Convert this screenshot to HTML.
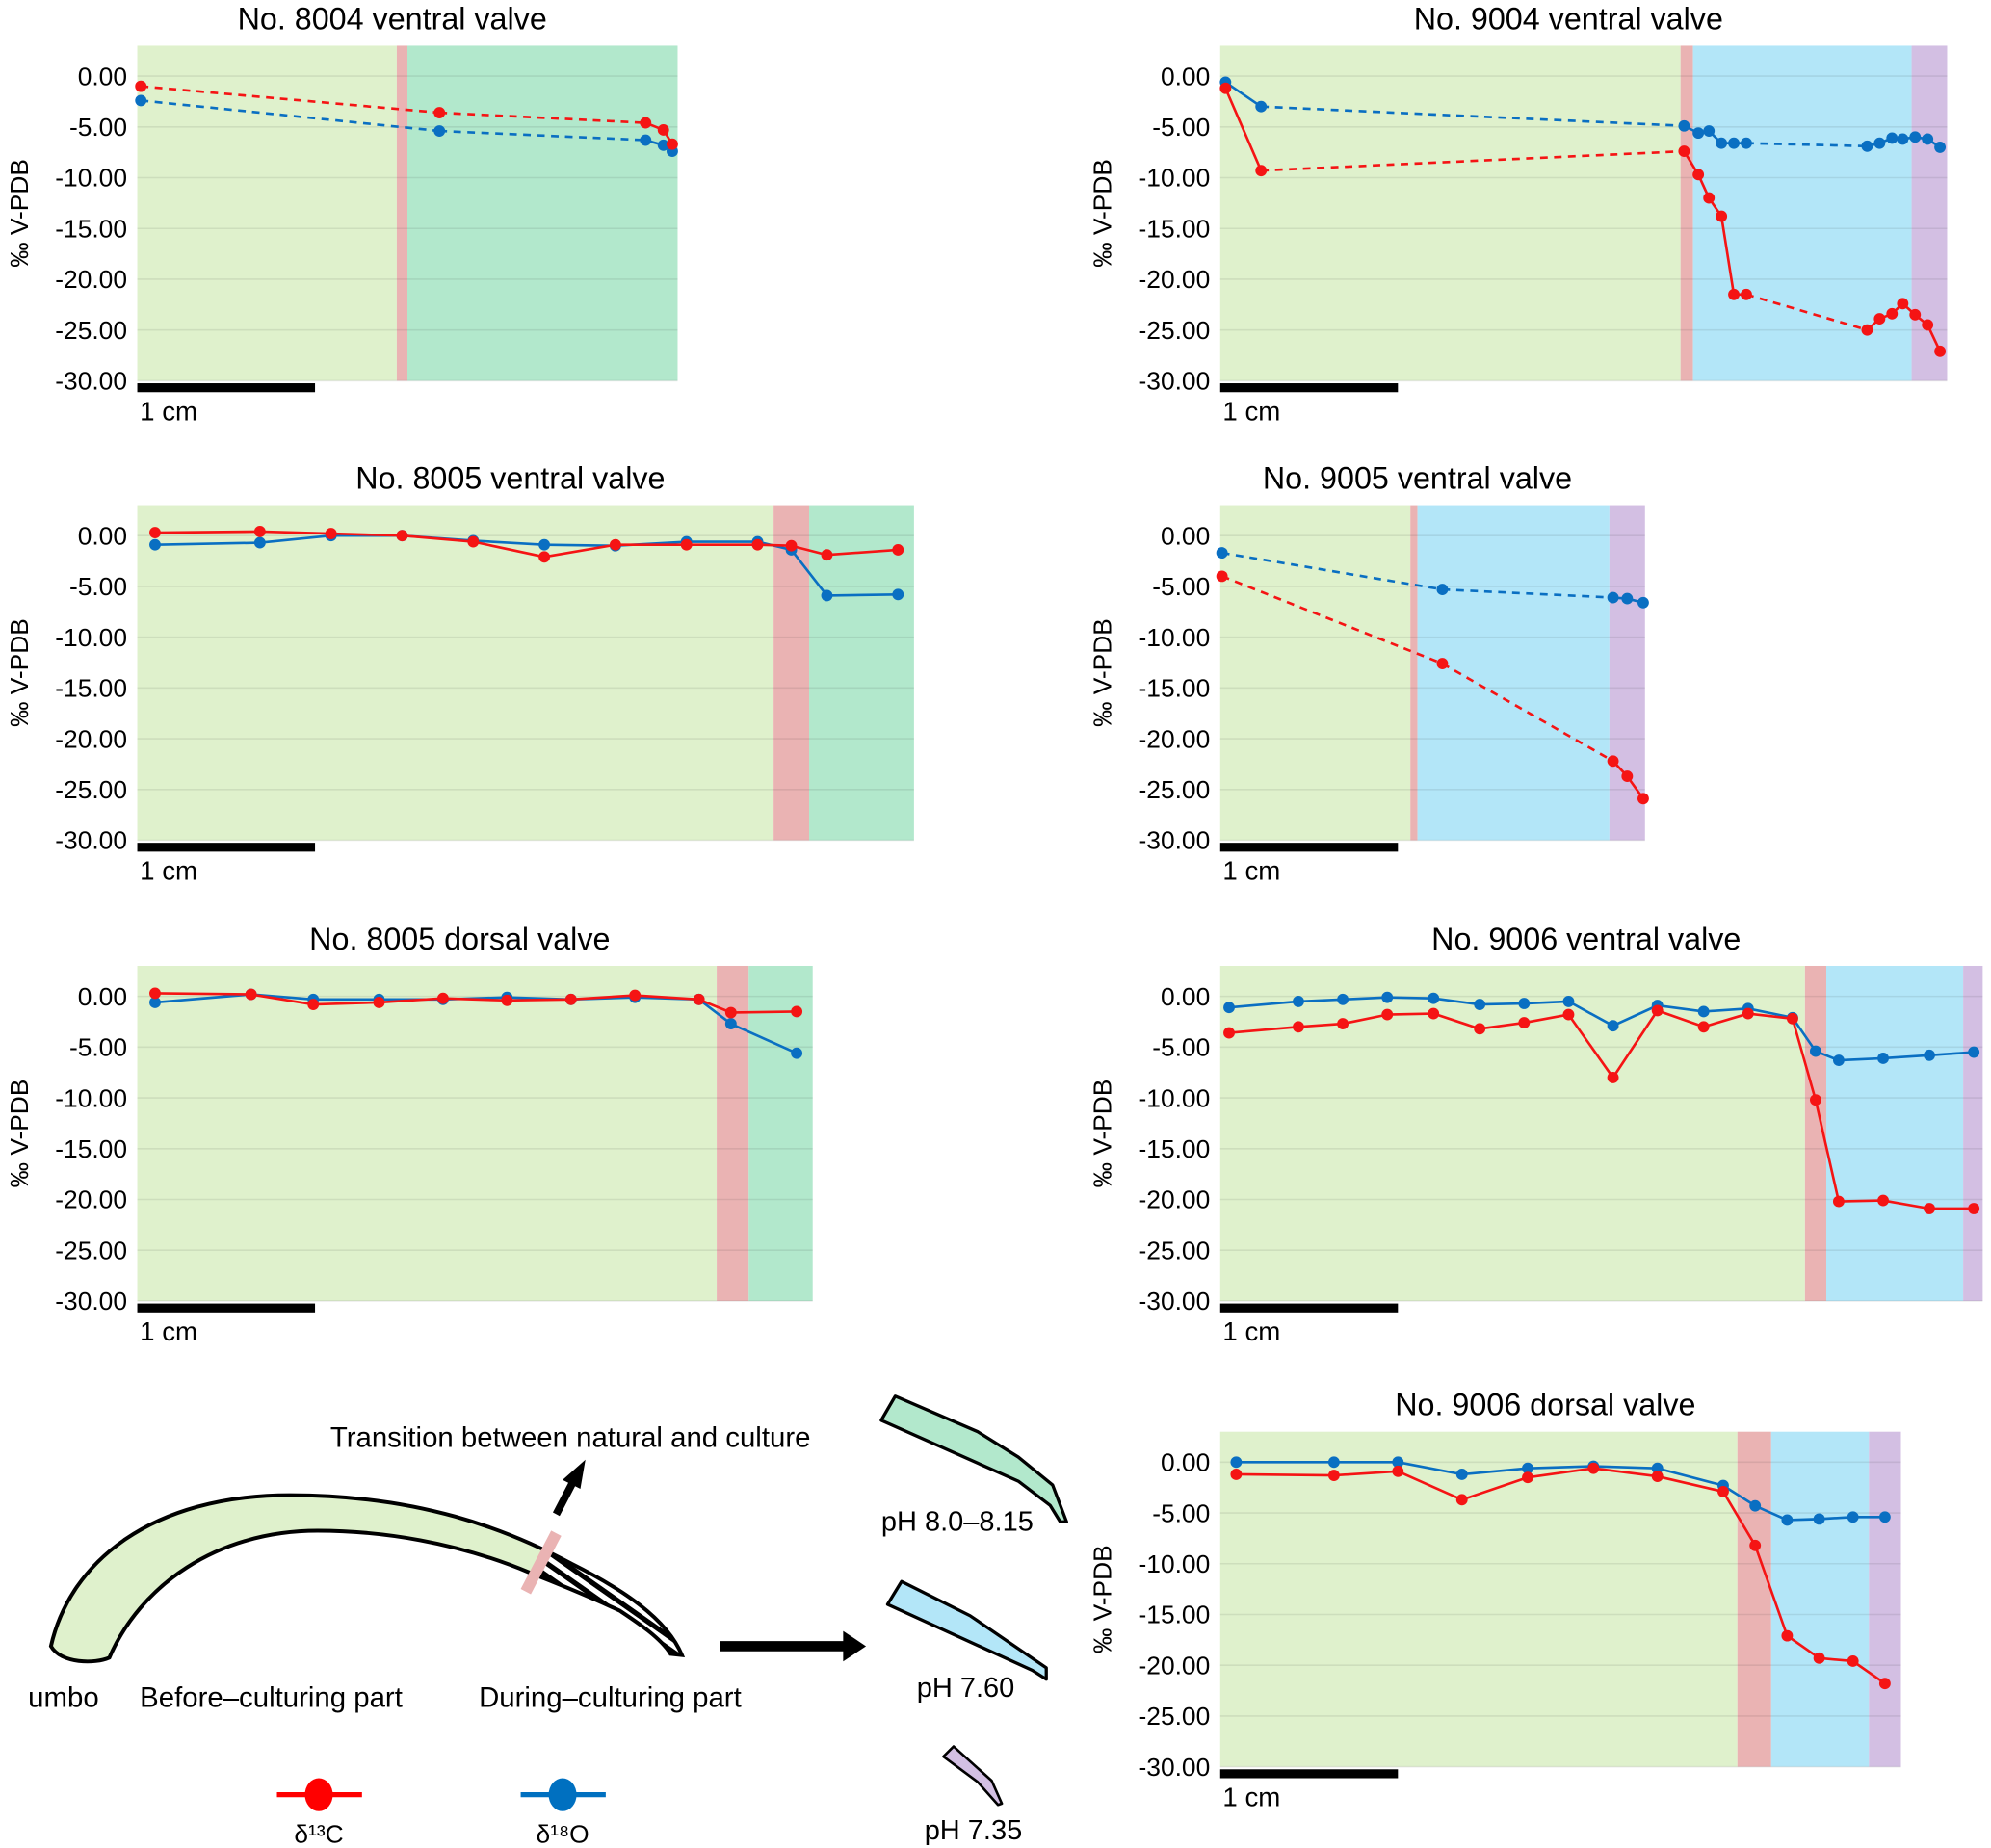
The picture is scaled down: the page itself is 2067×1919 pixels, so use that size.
<!DOCTYPE html>
<html><head><meta charset="utf-8"><style>
html,body{margin:0;padding:0;background:#fff}
svg{display:block}
text{font-family:"Liberation Sans",sans-serif;fill:#000}
</style></head><body>
<svg id="fig" width="2067" height="1919" viewBox="0 0 1568 1456" xmlns="http://www.w3.org/2000/svg">
<defs>
<pattern id="hatch" patternUnits="userSpaceOnUse" width="8" height="8" patternTransform="rotate(35)">
<rect width="8" height="8" fill="#fff"/><rect width="8" height="4" fill="#000"/></pattern>
<clipPath id="shellclip"><path d="M40,1297 C55,1230 120,1178 228,1178 C330,1178 400,1205 450,1232 C490,1252 525,1275 537,1304 L528,1303 C520,1290 500,1277 488,1269 C460,1256 440,1248 417,1239 C360,1215 300,1206 250,1206 C170,1206 110,1250 86,1306 C75,1311 48,1311 40,1297 Z"/></clipPath>
</defs>
<g id="charts"></g>
<g>
<path d="M40,1297 C55,1230 120,1178 228,1178 C330,1178 400,1205 450,1232 C490,1252 525,1275 537,1304 L528,1303 C520,1290 500,1277 488,1269 C460,1256 440,1248 417,1239 C360,1215 300,1206 250,1206 C170,1206 110,1250 86,1306 C75,1311 48,1311 40,1297 Z" fill="#dff1cc"/>
<g clip-path="url(#shellclip)"><polygon points="440,1195 620,1195 620,1330 405,1330 412,1258" fill="url(#hatch)"/></g>
<path d="M40,1297 C55,1230 120,1178 228,1178 C330,1178 400,1205 450,1232 C490,1252 525,1275 537,1304 L528,1303 C520,1290 500,1277 488,1269 C460,1256 440,1248 417,1239 C360,1215 300,1206 250,1206 C170,1206 110,1250 86,1306 C75,1311 48,1311 40,1297 Z" fill="none" stroke="#000" stroke-width="3"/>
<line x1="438" y1="1208" x2="414" y2="1254" stroke="#eab3b3" stroke-width="9"/>
<line x1="438" y1="1193" x2="451" y2="1168" stroke="#000" stroke-width="6"/>
<polygon points="461,1150 443,1166 457,1173" fill="#000"/>
<line x1="567" y1="1297" x2="665" y2="1297" stroke="#000" stroke-width="8"/>
<polygon points="682,1297 664,1285 664,1309" fill="#000"/>
<polygon points="705,1100 770,1128 802,1148 829,1170 840,1199 835,1199 827,1186 802,1167 694,1119" fill="#b2e8cc" stroke="#000" stroke-width="2.5" stroke-linejoin="round"/>
<polygon points="710,1246 764,1273 824,1314 824,1323 813,1316 699,1264" fill="#b3e6f8" stroke="#000" stroke-width="2.5" stroke-linejoin="round"/>
<polygon points="751,1376 743,1384 770,1404 786,1422 789,1421 781,1403" fill="#d3bfe3" stroke="#000" stroke-width="2" stroke-linejoin="round"/>
<text x="260" y="1140" font-size="22.3">Transition between natural and culture</text>
<text x="22" y="1345" font-size="22.3">umbo</text>
<text x="110" y="1345" font-size="22.3">Before–culturing part</text>
<text x="377" y="1345" font-size="22.3">During–culturing part</text>
<text x="694" y="1206" font-size="22">pH 8.0–8.15</text>
<text x="722" y="1337" font-size="22">pH 7.60</text>
<text x="728" y="1449" font-size="22">pH 7.35</text>
</g>
<g>
<g><line x1="218" y1="1414" x2="285" y2="1414" stroke="#ff0000" stroke-width="4"/><ellipse cx="251" cy="1414" rx="11" ry="13" fill="#ff0000"/>
<text x="251" y="1452" font-size="20" text-anchor="middle">δ¹³C</text></g>
<g><line x1="410" y1="1414" x2="477" y2="1414" stroke="#0070c0" stroke-width="4"/><ellipse cx="443" cy="1414" rx="11" ry="13" fill="#0070c0"/>
<text x="443" y="1452" font-size="20" text-anchor="middle">δ¹⁸O</text></g>
</g>
</svg>
<script>
// ---- data (x in mm along shell, y in ‰ V-PDB) ----
const yTicks = [0, -5, -10, -15, -20, -25, -30];
const yTickLabels = ["0.00","-5.00","-10.00","-15.00","-20.00","-25.00","-30.00"];
const titles = ["No. 8004 ventral valve","No. 9004 ventral valve","No. 8005 ventral valve","No. 9005 ventral valve","No. 8005 dorsal valve","No. 9006 ventral valve","No. 9006 dorsal valve"];

const p1x = [0.2, 17.0, 28.6, 29.6, 30.1];
const p1c = [-1.0, -3.6, -4.6, -5.3, -6.7];
const p1o = [-2.4, -5.4, -6.3, -6.8, -7.4];
const p1bands = [14.6, 15.2, 30.4];

const p2x = [0.3, 2.3, 26.1, 26.9, 27.5, 28.2, 28.9, 29.6, 36.4, 37.1, 37.8, 38.4, 39.1, 39.8, 40.5];
const p2c = [-1.2, -9.3, -7.4, -9.7, -12.0, -13.8, -21.5, -21.5, -25.0, -23.9, -23.4, -22.4, -23.5, -24.5, -27.1];
const p2o = [-0.6, -3.0, -4.9, -5.6, -5.4, -6.6, -6.6, -6.6, -6.9, -6.6, -6.1, -6.2, -6.0, -6.2, -7.0];
const p2bands = [25.9, 26.6, 38.9, 40.9];

const p3x = [1.0, 6.9, 10.9, 14.9, 18.9, 22.9, 26.9, 30.9, 34.9, 36.8, 38.8, 42.8];
const p3c = [0.3, 0.4, 0.2, 0.0, -0.6, -2.1, -0.9, -0.9, -0.9, -1.0, -1.9, -1.4];
const p3o = [-0.9, -0.7, 0.0, 0.0, -0.5, -0.9, -1.0, -0.6, -0.6, -1.4, -5.9, -5.8];
const p3bands = [35.8, 37.8, 43.7];

const p4x = [0.1, 12.5, 22.1, 22.9, 23.8];
const p4c = [-4.0, -12.6, -22.2, -23.7, -25.9];
const p4o = [-1.7, -5.3, -6.1, -6.2, -6.6];
const p4bands = [10.7, 11.1, 21.9, 23.9];

const p5x = [1.0, 6.4, 9.9, 13.6, 17.2, 20.8, 24.4, 28.0, 31.6, 33.4, 37.1];
const p5c = [0.3, 0.2, -0.8, -0.6, -0.2, -0.4, -0.3, 0.1, -0.3, -1.6, -1.5];
const p5o = [-0.6, 0.2, -0.3, -0.3, -0.3, -0.1, -0.3, -0.1, -0.3, -2.7, -5.6];
const p5bands = [32.6, 34.4, 38.0];

const p6x = [0.5, 4.4, 6.9, 9.4, 12.0, 14.6, 17.1, 19.6, 22.1, 24.6, 27.2, 29.7, 32.2, 33.5, 34.8, 37.3, 39.9, 42.4];
const p6c = [-3.6, -3.0, -2.7, -1.8, -1.7, -3.2, -2.6, -1.8, -8.0, -1.4, -3.0, -1.7, -2.2, -10.2, -20.2, -20.1, -20.9, -20.9];
const p6o = [-1.1, -0.5, -0.3, -0.1, -0.2, -0.8, -0.7, -0.5, -2.9, -0.9, -1.5, -1.2, -2.1, -5.4, -6.3, -6.1, -5.8, -5.5];
const p6bands = [32.9, 34.1, 41.8, 42.9];

const p7x = [0.9, 6.4, 10.0, 13.6, 17.3, 21.0, 24.6, 28.3, 30.1, 31.9, 33.7, 35.6, 37.4];
const p7c = [-1.2, -1.3, -0.9, -3.7, -1.5, -0.6, -1.4, -2.9, -8.2, -17.1, -19.3, -19.6, -21.8];
const p7o = [0.0, 0.0, 0.0, -1.2, -0.6, -0.4, -0.6, -2.3, -4.3, -5.7, -5.6, -5.4, -5.4];
const p7bands = [29.1, 31.0, 36.5, 38.3];

// dashed segment indices (segment i joins point i and i+1)
const p1dash = [0, 1];
const p2dash = [1, 7];
const p4dash = [0, 1];

// ---- layout ----
const NS = "http://www.w3.org/2000/svg";
const PXMM = 14;
const panels = [
 {left:108, top:36, x:p1x, c:p1c, o:p1o, bands:p1bands, dash:p1dash, fills:["#dff1cc","#eab3b3","#b2e8cc"]},
 {left:961, top:36, x:p2x, c:p2c, o:p2o, bands:p2bands, dash:p2dash, fills:["#dff1cc","#eab3b3","#b3e6f8","#d3bfe3"]},
 {left:108, top:398, x:p3x, c:p3c, o:p3o, bands:p3bands, dash:[], fills:["#dff1cc","#eab3b3","#b2e8cc"]},
 {left:961, top:398, x:p4x, c:p4c, o:p4o, bands:p4bands, dash:p4dash, fills:["#dff1cc","#eab3b3","#b3e6f8","#d3bfe3"]},
 {left:108, top:761, x:p5x, c:p5c, o:p5o, bands:p5bands, dash:[], fills:["#dff1cc","#eab3b3","#b2e8cc"]},
 {left:961, top:761, x:p6x, c:p6c, o:p6o, bands:p6bands, dash:[], fills:["#dff1cc","#eab3b3","#b3e6f8","#d3bfe3"]},
 {left:961, top:1128, x:p7x, c:p7c, o:p7o, bands:p7bands, dash:[], fills:["#dff1cc","#eab3b3","#b3e6f8","#d3bfe3"]}
];
const root = document.getElementById("charts");
function mk(tag, attrs, parent){const e=document.createElementNS(NS,tag);for(const k in attrs)e.setAttribute(k,attrs[k]);parent.appendChild(e);return e;}

panels.forEach((p, pi) => {
  const g = mk("g", {}, root);
  
  
  const xs = v => p.left + v * PXMM;
  const ys = v => p.top + (3 - v) * 8;
  const right = xs(p.bands[p.bands.length - 1]);
  const bottom = ys(-30);
  let prev = 0;
  p.bands.forEach((b, i) => {
    const r = mk("rect", {x:xs(prev), y:p.top, width:xs(b)-xs(prev), height:bottom-p.top, fill:p.fills[i]}, g);
    
    
    prev = b;
  });
  yTicks.forEach((t, i) => {
    const l = mk("line", {x1:p.left, x2:right, y1:ys(t), y2:ys(t), stroke:"#000", "stroke-opacity":"0.08", "stroke-width":"1.2"}, g);
    
    
    const tx = mk("text", {x:p.left-8, y:ys(t)+7, "font-size":"20", "text-anchor":"end"}, g);
    tx.textContent = yTickLabels[i];
    
    
  });
  const yt = mk("text", {x:0, y:0, "font-size":"20", "text-anchor":"middle", transform:`translate(${p.left-86},${(p.top+bottom)/2}) rotate(-90)`}, g);
  yt.textContent = "‰ V-PDB";
  
  
  const tt = mk("text", {x:(p.left+right)/2 - 12, y:p.top-13, "font-size":"24.5", "text-anchor":"middle"}, g);
  tt.textContent = titles[pi];
  
  
  const sb = mk("rect", {x:p.left, y:bottom+2, width:10*PXMM, height:7, fill:"#000"}, g);
  
  
  const sl = mk("text", {x:p.left+2, y:bottom+31, "font-size":"21"}, g);
  sl.textContent = "1 cm";
  
  
  [[p.o, "#0a6fc2", "d18o"], [p.c, "#f51414", "d13c"]].forEach(([vals, col, nm]) => {
    const sg = mk("g", {}, g);
    
    
    for (let i = 0; i < vals.length - 1; i++) {
      const a = {x1:xs(p.x[i]), y1:ys(vals[i]), x2:xs(p.x[i+1]), y2:ys(vals[i+1]), stroke:col, "stroke-width":"2"};
      if (p.dash.includes(i)) a["stroke-dasharray"] = "6 5";
      const ln = mk("line", a, sg);
      
      
    }
    vals.forEach((v, i) => {
      const c = mk("circle", {cx:xs(p.x[i]), cy:ys(v), r:"4.5", fill:col}, sg);
      
      
    });
  });
});
</script>
</body></html>
